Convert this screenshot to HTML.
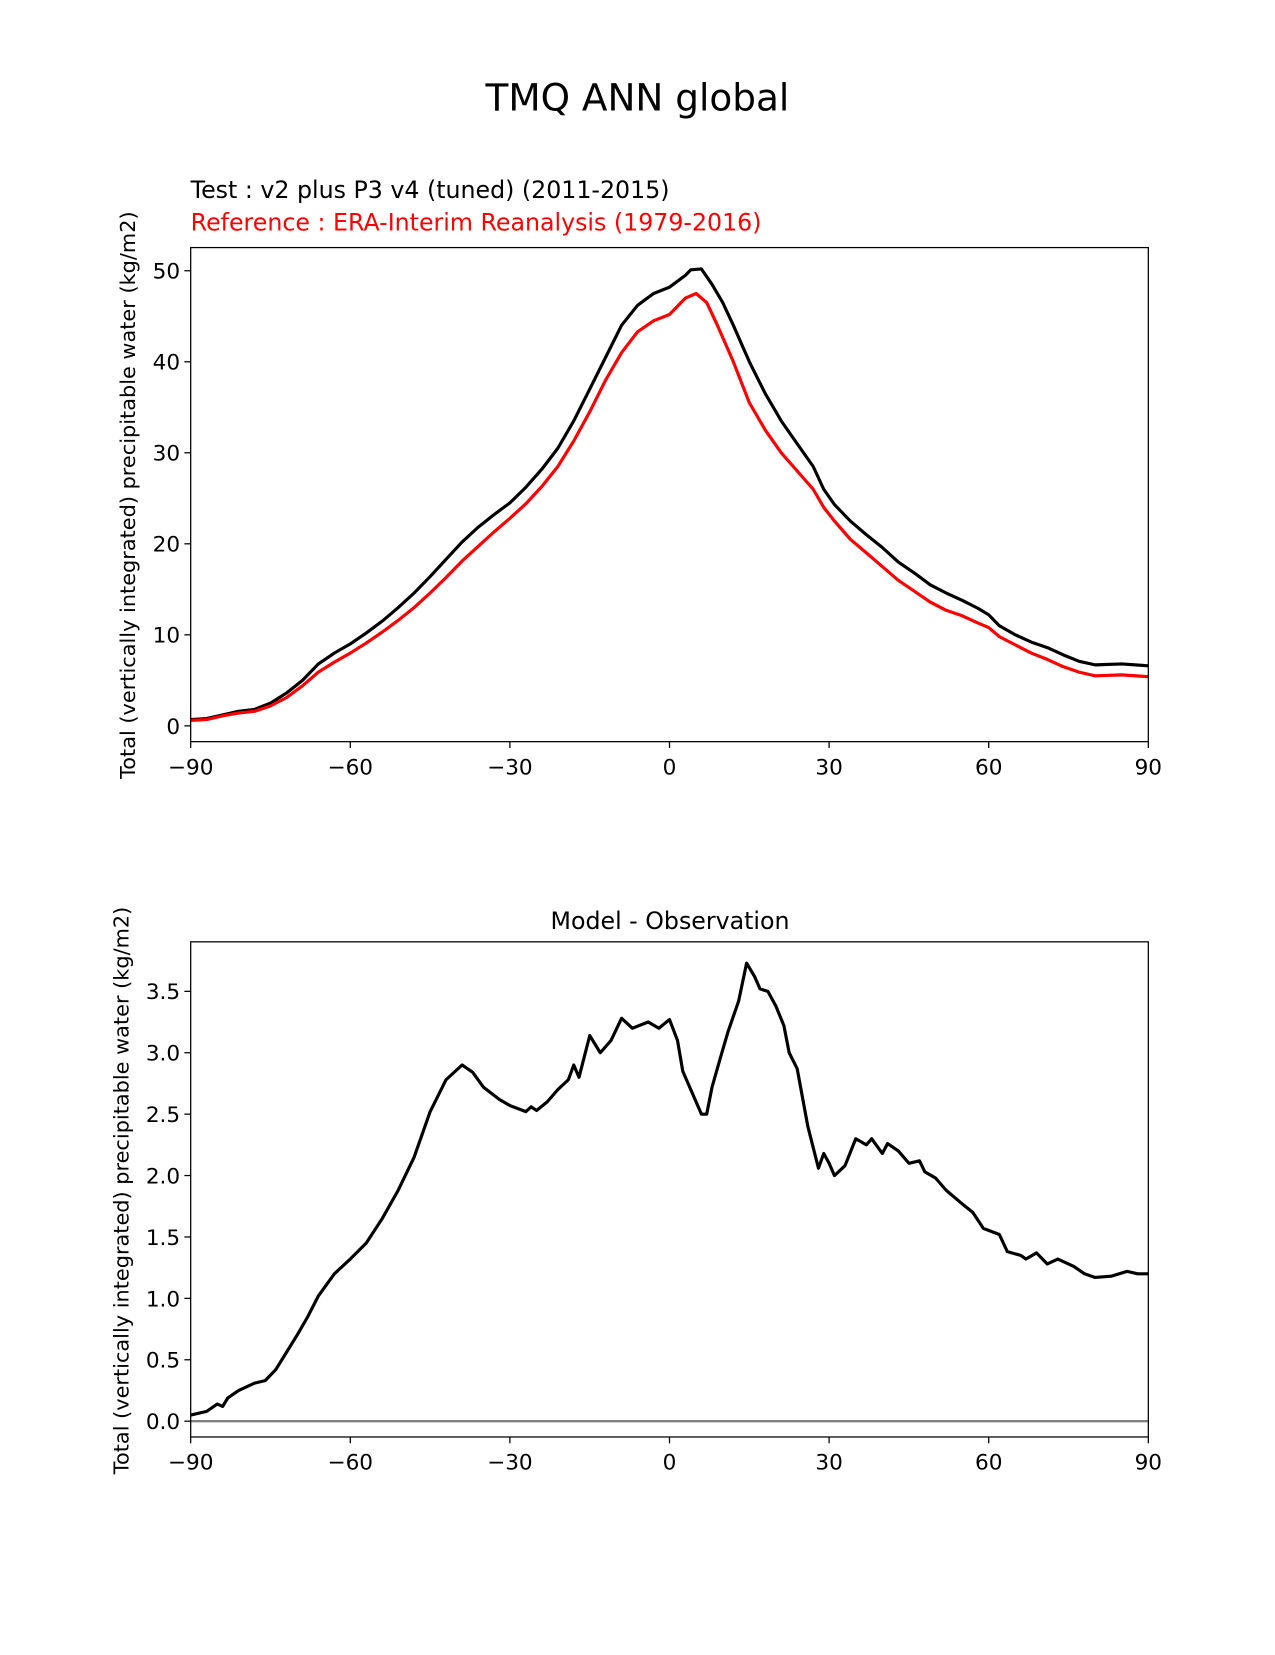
<!DOCTYPE html>
<html><head><meta charset="utf-8"><style>
body{margin:0;background:#fff}
svg text{font-family:"DejaVu Sans","Liberation Sans",sans-serif}
</style></head><body>
<svg id="chart" width="1275" height="1650" xmlns="http://www.w3.org/2000/svg">
<g transform="scale(1.0535)">
<text x="605" y="105" font-size="35.5" text-anchor="middle">TMQ ANN global</text>
<text x="181" y="188" font-size="22.5">Test : v2 plus P3 v4 (tuned) (2011-2015)</text>
<text x="181" y="219" font-size="22.5" fill="#ff0000">Reference : ERA-Interim Reanalysis (1979-2016)</text>
<text x="636" y="882" font-size="22.5" text-anchor="middle">Model - Observation</text>
<text transform="translate(128,470) rotate(-90)" font-size="19.8" text-anchor="middle">Total (vertically integrated) precipitable water (kg/m2)</text>
<text transform="translate(122,1130) rotate(-90)" font-size="19.8" text-anchor="middle">Total (vertically integrated) precipitable water (kg/m2)</text>
<g id="top"></g>
<g id="bot"></g>
</g>
</svg>
<script>
const latTest=[-90,-87,-84,-81,-78,-75,-72,-69,-66,-63,-60,-57,-54,-51,-48,-45,-42,-39,-36,-33,-30,-27,-24,-21,-18,-15,-12,-9,-6,-3,0,3,4,6,8,10,12,15,18,21,24,27,29,31,34,37,40,43,46,49,52,55,58,60,62,65,68,71,74,77,80,85,90];
const testVals=[0.7,0.8,1.2,1.6,1.8,2.5,3.6,5.0,6.8,8.0,9.0,10.2,11.5,13.0,14.6,16.4,18.3,20.2,21.8,23.2,24.5,26.2,28.2,30.5,33.5,37.0,40.5,44.0,46.2,47.5,48.2,49.5,50.1,50.2,48.5,46.5,44.0,40.0,36.5,33.5,31.0,28.5,26.0,24.3,22.5,21.0,19.6,18.0,16.8,15.5,14.6,13.8,12.9,12.2,11.0,10.0,9.2,8.6,7.8,7.1,6.7,6.8,6.6];
const latRef=[-90,-87,-84,-81,-78,-75,-72,-69,-66,-63,-60,-57,-54,-51,-48,-45,-42,-39,-36,-33,-30,-27,-24,-21,-18,-15,-12,-9,-6,-3,0,3,5,7,9,12,15,18,21,24,27,29,31,34,37,40,43,46,49,52,55,58,60,62,65,68,71,74,77,80,85,90];
const refVals=[0.6,0.7,1.1,1.4,1.6,2.2,3.1,4.4,5.9,7.0,8.0,9.1,10.3,11.6,13.0,14.6,16.3,18.1,19.7,21.3,22.8,24.4,26.3,28.5,31.3,34.5,38.0,41.0,43.3,44.5,45.2,47.0,47.5,46.5,44.0,40.0,35.5,32.5,30.0,28.0,26.0,24.0,22.5,20.5,19.0,17.5,16.0,14.8,13.6,12.7,12.1,11.3,10.8,9.8,8.9,8.0,7.3,6.5,5.9,5.5,5.6,5.4];
const latDiff=[-90,-87,-85,-84,-83,-81,-78,-76,-74,-72,-70,-68,-66,-63,-60,-57,-54,-51,-48,-45,-42,-39,-37,-35,-32,-30,-27,-26,-25,-23,-21,-19,-18,-17,-15,-13,-11,-9,-7,-4,-2,0,1.5,2.5,4,6,7,8,9.5,11,13,14.5,16,17,18.5,20,21.5,22.5,24,26,28,29,30,31,33,35,37,38,40,41,43,45,47,48,50,52,55,57,59,62,63.5,66,67,69,71,73,76,78,80,83,86,88,90];
const diffVals=[0.05,0.08,0.14,0.12,0.19,0.25,0.31,0.33,0.42,0.56,0.7,0.85,1.02,1.2,1.32,1.45,1.65,1.88,2.15,2.52,2.78,2.9,2.84,2.72,2.62,2.57,2.52,2.56,2.53,2.6,2.7,2.78,2.9,2.8,3.14,3.0,3.1,3.28,3.2,3.25,3.2,3.27,3.1,2.85,2.7,2.5,2.5,2.72,2.95,3.17,3.42,3.73,3.62,3.52,3.5,3.38,3.22,3.0,2.87,2.4,2.06,2.18,2.1,2.0,2.08,2.3,2.25,2.3,2.18,2.26,2.2,2.1,2.12,2.03,1.98,1.88,1.77,1.7,1.57,1.52,1.38,1.35,1.32,1.37,1.28,1.32,1.26,1.2,1.17,1.18,1.22,1.2,1.2];
const xTicks=[-90,-60,-30,0,30,60,90];
const xTickLabels=["\u221290","\u221260","\u221230","0","30","60","90"];
const topYTicks=[0,10,20,30,40,50];
const botYTicks=[0,0.5,1,1.5,2,2.5,3,3.5];
const botYTickLabels=["0.0","0.5","1.0","1.5","2.0","2.5","3.0","3.5"];
const NS="http://www.w3.org/2000/svg";
function mk(tag,attrs,parent){const e=document.createElementNS(NS,tag);for(const k in attrs)e.setAttribute(k,attrs[k]);parent.appendChild(e);return e;}
const L=181,R=1090;
const xs=v=>L+(v+90)/180*(R-L);
function drawAxes(g,top,bottom,ys,yt,ytl,prefix){
  const f=mk('rect',{x:L,y:top,width:R-L,height:bottom-top,fill:'none',stroke:'#000','stroke-width':1.2},g);
  
  
  xTicks.forEach((t,i)=>{
    const l=mk('line',{x1:xs(t),x2:xs(t),y1:bottom,y2:bottom+6,stroke:'#000','stroke-width':1.2},g);
    
    
    const tx=mk('text',{x:xs(t),y:bottom+31,'font-size':20.5,'text-anchor':'middle'},g);
    
    
    tx.textContent=xTickLabels[i];
  });
  yt.forEach((t,i)=>{
    const l=mk('line',{x1:L-6,x2:L,y1:ys(t),y2:ys(t),stroke:'#000','stroke-width':1.2},g);
    
    
    const tx=mk('text',{x:L-10,y:ys(t)+7.5,'font-size':20.5,'text-anchor':'end'},g);
    
    
    tx.textContent=ytl[i];
  });
}
function line(g,xa,ya,ys,color,name,w){
  const d=xa.map((x,i)=>(i?'L':'M')+xs(x).toFixed(1)+','+ys(ya[i]).toFixed(1)).join('');
  const p=mk('path',{d:d,fill:'none',stroke:color,'stroke-width':w,'stroke-linejoin':'round'},g);
  
  
}
const gt=document.getElementById('top');
const ysT=v=>689-v*(689-257)/50;
line(gt,latTest,testVals,ysT,'#000','test-line',3);
line(gt,latRef,refVals,ysT,'#ff0000','reference-line',3);
drawAxes(gt,235,704,ysT,topYTicks,topYTicks.map(String),'top');
const gb=document.getElementById('bot');
const ysB=v=>1349-v*(1349-941)/3.5;
const z=mk('line',{x1:L,x2:R,y1:ysB(0),y2:ysB(0),stroke:'#808080','stroke-width':2.2},gb);


line(gb,latDiff,diffVals,ysB,'#000','difference-line',3);
drawAxes(gb,894,1364,ysB,botYTicks,botYTickLabels,'bottom');
</script>
</body></html>
